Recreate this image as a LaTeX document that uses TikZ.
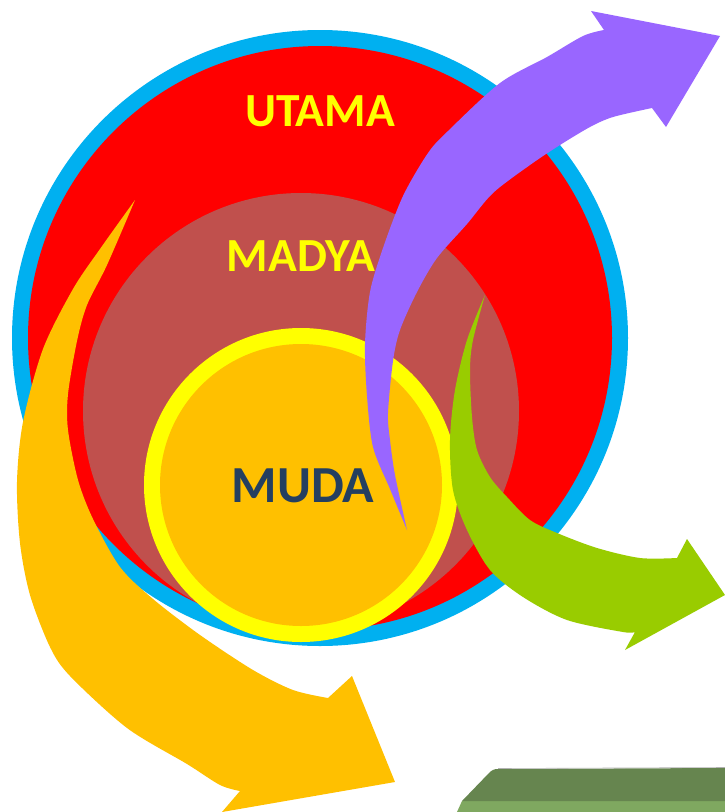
\documentclass[tikz,border=0pt]{standalone}
\usepackage{fontspec}
\setmainfont{Carlito}
\definecolor{ringblue}{HTML}{00B0F0}
\definecolor{utamared}{HTML}{FF0000}
\definecolor{madyabrown}{HTML}{C0504D}
\definecolor{mudayellow}{HTML}{FFFF00}
\definecolor{mudaorange}{HTML}{FFC000}
\definecolor{arrowpurple}{HTML}{9966FF}
\definecolor{arrowgreen}{HTML}{99CC00}
\definecolor{arroworange}{HTML}{FFC000}
\definecolor{mudatext}{HTML}{243F60}
\definecolor{boxdark}{HTML}{66854F}
\definecolor{boxlight}{HTML}{7FA860}
\begin{document}
\begin{tikzpicture}[x=1pt,y=-1pt,
  lbl/.style={font=\bfseries, inner sep=0pt, anchor=center},
  ylbl/.style={lbl, text=mudayellow, font=\fontsize{47.5}{52}\selectfont\bfseries},
  mlbl/.style={lbl, text=mudatext, font=\fontsize{52}{56}\selectfont\bfseries}]
\useasboundingbox (0,0) rectangle (725,812);
\fill[white] (0,0) rectangle (725,812);
% circles
\coordinate (cO) at (320,338);
\coordinate (cM) at (301,411);
\coordinate (cI) at (301,485);
\fill[ringblue] (cO) circle[radius=308];
\fill[utamared] (cO) circle[radius=292];
\fill[madyabrown] (cM) circle[radius=218];
\fill[mudayellow] (cI) circle[radius=157];
\fill[mudaorange] (cI) circle[radius=141];
% labels
\node[ylbl] (utama) at (320,111) {UTAMA};
\node[ylbl] (madya) at (301,256) {MADYA};
\node[mlbl] (muda) at (303,486) {MUDA};
% orange arrow
\fill[arroworange] plot[smooth, tension=0.5] coordinates {(135,200) (100,249) (73,289) (43,349) (23,422) (17,482) (20,543) (30,595) (50,647) (70,676) (127,728) (187,764) (220,785) (240,791)}
  -- (222,812) -- (395,782) -- (352,676) -- (328,698)
  -- plot[smooth, tension=0.5] coordinates {(328,698) (293,690) (253,670) (200,635) (153,599) (120,567) (93,519) (78,480) (68,430) (68,394) (77,341) (87,305) (107,265) (135,200)} -- cycle;
% green arrow
\fill[arrowgreen] plot[smooth, tension=0.5] coordinates {(485,295) (467,340) (455,390) (450,440) (453,490) (467,530) (490,570) (523,597) (567,620) (623,632) (635,632)}
  -- (625,650) -- (725,595) -- (687,539) -- (677,558)
  -- plot[smooth, tension=0.5] coordinates {(677,558) (640,558) (597,548) (557,533) (530,520) (507,497) (490,477) (477,450) (472,417) (470,370) (473,340) (485,295)} -- cycle;
% purple arrow
\fill[arrowpurple] plot[smooth, tension=0.5] coordinates {(407,530) (390,489) (373,447) (367,396) (365,344) (370,292) (383,248) (403,196) (428,153) (448,131) (500,83) (547,57) (583,36) (604,30)}
  -- (591,11) -- (720,36) -- (666,127) -- (652,108)
  -- plot[smooth, tension=0.5] coordinates {(652,108) (613,117) (590,127) (560,145) (530,165) (493,193) (467,224) (437,258) (417,292) (400,330) (393,361) (388,413) (390,440) (395,475) (407,530)} -- cycle;
% green box at bottom right
\fill[boxlight] (462,801) -- (725,801) -- (725,812) -- (457,812) -- cycle;
\fill[boxdark] (462,801) -- (489,773) .. controls (492,770) and (494,769) .. (498,769) -- (725,768) -- (725,801) -- cycle;
\draw[gray!60, line width=0.6pt] (498,768.5) -- (725,767.5);
\end{tikzpicture}
\end{document}
